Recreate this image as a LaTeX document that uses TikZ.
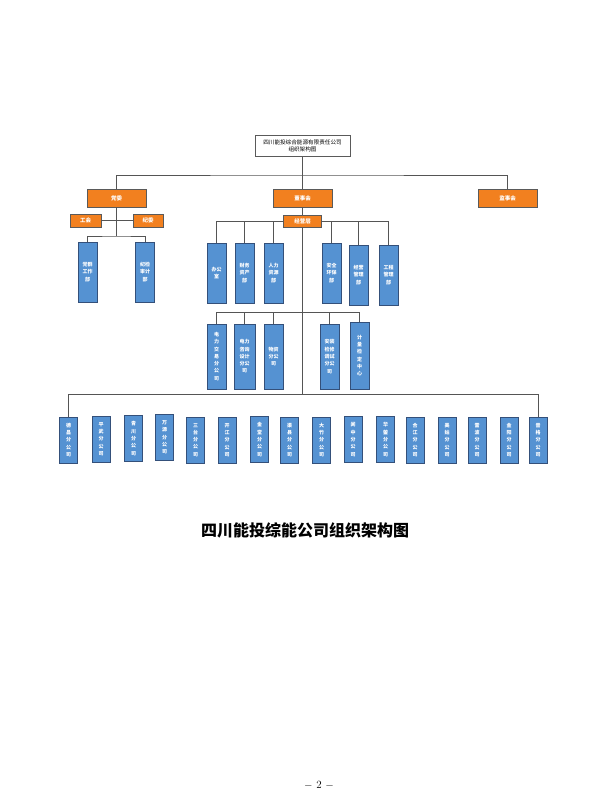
\documentclass[tikz,border=0pt]{standalone}
\usepackage{fontspec}
\newfontfamily\cjk{Noto Sans CJK SC}
\usepackage{tikz}

\definecolor{orgfill}{HTML}{F2801F}
\definecolor{bluefill}{HTML}{5592D2}
\definecolor{blueline}{HTML}{34507A}
\definecolor{boxline}{HTML}{5A5A5A}
\definecolor{linegray}{HTML}{555555}

\tikzset{
    conn/.style={draw=linegray, line width=0.8pt},
    topbox/.style={draw=boxline, fill=white, line width=0.6pt, inner sep=0pt,
        align=center, font=\cjk\fontsize{5.6}{7}\selectfont},
    orgbox/.style={draw=boxline, fill=orgfill, line width=0.8pt, inner sep=0pt,
        text=white, font=\cjk\bfseries\fontsize{5.5}{6}\selectfont},
    bluebox/.style={draw=blueline, fill=bluefill, line width=0.8pt, inner sep=0pt,
        text=white, align=center, font=\cjk\bfseries\fontsize{5}{7.3}\selectfont}
}

\begin{document}
\begin{tikzpicture}[x=1pt, y=-1pt]

\useasboundingbox (0,0) rectangle (600,800);

% Company
\node[topbox, minimum width=95, minimum height=21] (top) at (302.5,146)
    {四川能投综合能源有限责任公司\\组织架构图};

% Top level
\node[orgbox, minimum width=59, minimum height=18] (party) at (116.5,198) {党委};
\node[orgbox, minimum width=59, minimum height=18] (board) at (302.5,198) {董事会};
\node[orgbox, minimum width=59, minimum height=18] (super) at (507.5,198) {监事会};

% Under the party committee
\node[orgbox, minimum width=31, minimum height=13] (union) at (85.5,220.5) {工会};
\node[orgbox, minimum width=30, minimum height=13] (disc) at (148,220.5) {纪委};
\node[bluebox, minimum width=19, minimum height=60] (dq) at (87.5,272) {党群\\工作\\部};
\node[bluebox, minimum width=19, minimum height=60] (jj) at (145,272) {纪检\\审计\\部};

% Management
\node[orgbox, minimum width=38, minimum height=12] (mgmt) at (302.5,221) {经营层};

% Departments
\node[bluebox, minimum width=19, minimum height=60] (office) at (216.5,273) {办公\\室};
\node[bluebox, minimum width=19, minimum height=60] (fin) at (244.5,273) {财务\\资产\\部};
\node[bluebox, minimum width=19, minimum height=60] (hr) at (273.5,273) {人力\\资源\\部};
\node[bluebox, minimum width=19, minimum height=60] (safe) at (331.5,273) {安全\\环保\\部};
\node[bluebox, minimum width=19, minimum height=60] (oper) at (358.5,275) {经营\\管理\\部};
\node[bluebox, minimum width=19, minimum height=60] (eng) at (388.5,275) {工程\\管理\\部};

% Subsidiaries
\node[bluebox, minimum width=19, minimum height=65] (trade) at (216.5,356.5) {电\\力\\交\\易\\分\\公\\司};
\node[bluebox, minimum width=21, minimum height=65] (design) at (244.5,356.5) {电力\\咨询\\设计\\分公\\司};
\node[bluebox, minimum width=19, minimum height=65] (mat) at (273.5,356.5) {物资\\分公\\司};
\node[bluebox, minimum width=19, minimum height=65] (inst) at (329.5,356.5) {安装\\检修\\调试\\分公\\司};
\node[bluebox, minimum width=19, minimum height=67] (meter) at (359.5,355.5) {计\\量\\检\\定\\中\\心};

% Branch companies
\node[bluebox, minimum width=18, minimum height=46] (dc) at (68.5,440) {德\\昌\\分\\公\\司};
\node[bluebox, minimum width=18, minimum height=46] (pw) at (101,439) {平\\武\\分\\公\\司};
\node[bluebox, minimum width=18, minimum height=46] (qc) at (133.5,438.5) {青\\川\\分\\公\\司};
\node[bluebox, minimum width=18, minimum height=46] (wy) at (164.5,437.5) {万\\源\\分\\公\\司};
\node[bluebox, minimum width=18, minimum height=46] (st) at (195.5,440) {三\\台\\分\\公\\司};
\node[bluebox, minimum width=18, minimum height=46] (kj) at (227,440) {开\\江\\分\\公\\司};
\node[bluebox, minimum width=18, minimum height=46] (jt) at (259.5,439.5) {金\\堂\\分\\公\\司};
\node[bluebox, minimum width=18, minimum height=46] (qx) at (289.5,440) {渠\\县\\分\\公\\司};
\node[bluebox, minimum width=18, minimum height=46] (dz) at (321.5,440) {大\\竹\\分\\公\\司};
\node[bluebox, minimum width=18, minimum height=46] (lz) at (353,439.5) {阆\\中\\分\\公\\司};
\node[bluebox, minimum width=18, minimum height=46] (hy) at (385.5,439.5) {华\\蓥\\分\\公\\司};
\node[bluebox, minimum width=18, minimum height=46] (hj) at (415,440) {合\\江\\分\\公\\司};
\node[bluebox, minimum width=18, minimum height=46] (mg) at (447,440) {美\\姑\\分\\公\\司};
\node[bluebox, minimum width=18, minimum height=46] (lb) at (477,440) {雷\\波\\分\\公\\司};
\node[bluebox, minimum width=18, minimum height=46] (jy) at (509,440) {金\\阳\\分\\公\\司};
\node[bluebox, minimum width=18, minimum height=46] (pg) at (538,440) {普\\格\\分\\公\\司};

% Bus points
\coordinate (b1) at (302.5,175);
\coordinate (b2) at (116.5,236);
\coordinate (b3) at (302.5,312);
\coordinate (b5) at (302.5,394);

% Connectors
\draw[conn] (top.south) -- (b1);
\draw[conn] (party.north) |- (b1) -| (super.north);
\draw[conn] (b1) -- (board.north);

\draw[conn] (union.east) -- (disc.west);
\draw[conn] (party.south) -- (b2);
\draw[conn] (dq.north) |- (b2) -| (jj.north);

\draw[conn] (board.south) -- (mgmt.north);
\draw[conn] (mgmt.south) -- (b5);
\draw[conn] (mgmt.west) -| (office.north);
\draw[conn] (mgmt.west) -| (fin.north);
\draw[conn] (mgmt.west) -| (hr.north);
\draw[conn] (mgmt.east) -| (safe.north);
\draw[conn] (mgmt.east) -| (oper.north);
\draw[conn] (mgmt.east) -| (eng.north);

\draw[conn] (b3) -| (trade.north);
\draw[conn] (b3) -| (design.north);
\draw[conn] (b3) -| (mat.north);
\draw[conn] (b3) -| (inst.north);
\draw[conn] (b3) -| (meter.north);

\draw[conn] (b5) -| (dc.north);
\draw[conn] (b5) -| (pg.north);

% Title and page number
\node (title) at (305,530) {\cjk\bfseries\fontsize{16}{18}\selectfont 四川能投综能公司组织架构图};
\node (pagenum) at (319,785) {\fontsize{11}{12}\selectfont $-$ 2 $-$};

\end{tikzpicture}
\end{document}
